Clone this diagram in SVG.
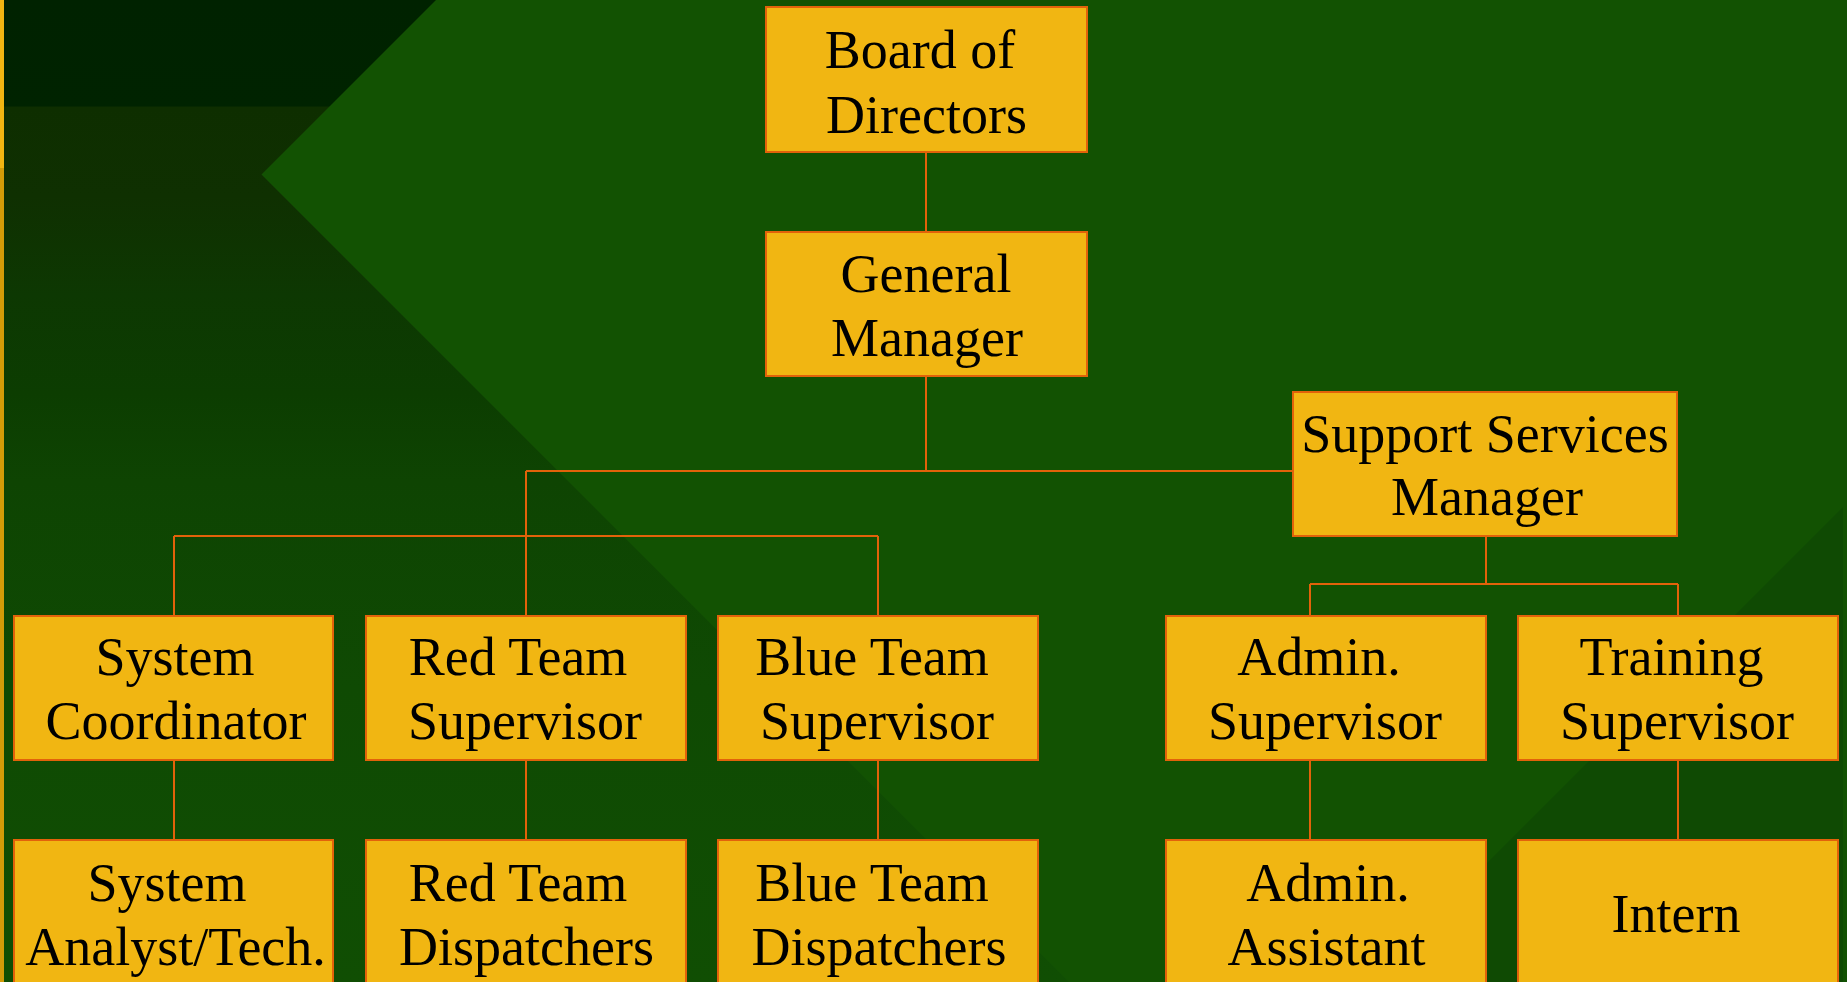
<svg xmlns="http://www.w3.org/2000/svg" width="1847" height="982" viewBox="0 0 1847 982">
  <defs>
    <linearGradient id="shadeLeft" gradientUnits="userSpaceOnUse" x1="0" y1="0" x2="0" y2="982">
      <stop offset="0" stop-color="#002200"/>
      <stop offset="0.108" stop-color="#002300"/>
      <stop offset="0.109" stop-color="#0e2e00"/>
      <stop offset="0.2" stop-color="#0f3001"/>
      <stop offset="0.3" stop-color="#0d3802"/>
      <stop offset="0.4" stop-color="#0c3d01"/>
      <stop offset="0.49" stop-color="#0e4402"/>
      <stop offset="0.7" stop-color="#0f4a03"/>
      <stop offset="1" stop-color="#104e03"/>
    </linearGradient>
  </defs>
  <style>
    .box { fill: #f1b612; stroke: #e2620a; stroke-width: 2; }
    .lbl { font-family: "Liberation Serif", "Times New Roman", serif; font-size: 54px; fill: #000; text-anchor: middle; }
    .link { fill: none; stroke: #e2620a; stroke-width: 2; }
  </style>

  <!-- background -->
  <rect x="0" y="0" width="1847" height="982" fill="#125202"/>
  <polygon points="4,0 436,0 261.5,174.5 1069,982 4,982" fill="url(#shadeLeft)"/>
  <polygon points="1843,507 1843,982 1368,982" fill="#0f4a03"/>
  <rect x="0" y="0" width="4" height="168" fill="#f1b612"/>
  <rect x="0" y="168" width="4" height="814" fill="#d29c08"/>

  <!-- connectors -->
  <g id="connectors" class="link">
    <path d="M926 152 V232"/>
    <path d="M926 376 V471"/>
    <path d="M526 471 H1293"/>
    <path d="M526 471 V616"/>
    <path d="M174 536 H878"/>
    <path d="M174 536 V616"/>
    <path d="M878 536 V616"/>
    <path d="M1486 536 V584"/>
    <path d="M1310 584 H1678"/>
    <path d="M1310 584 V616"/>
    <path d="M1678 584 V616"/>
    <path d="M174 760 V840"/>
    <path d="M526 760 V840"/>
    <path d="M878 760 V840"/>
    <path d="M1310 760 V840"/>
    <path d="M1678 760 V840"/>
  </g>

  <!-- nodes -->
  <g id="board">
    <rect class="box" x="766" y="7" width="321" height="145"/>
    <text class="lbl"><tspan x="920" y="68">Board of</tspan><tspan x="926.5" y="133">Directors</tspan></text>
  </g>
  <g id="general-manager">
    <rect class="box" x="766" y="232" width="321" height="144"/>
    <text class="lbl"><tspan x="926" y="292">General</tspan><tspan x="927" y="356">Manager</tspan></text>
  </g>
  <g id="support-services-manager">
    <rect class="box" x="1293" y="392" width="384" height="144"/>
    <text class="lbl"><tspan x="1485" y="452">Support Services</tspan><tspan x="1487" y="515">Manager</tspan></text>
  </g>

  <g id="system-coordinator">
    <rect class="box" x="14" y="616" width="319" height="144"/>
    <text class="lbl"><tspan x="175" y="675">System</tspan><tspan x="176" y="739">Coordinator</tspan></text>
  </g>
  <g id="red-team-supervisor">
    <rect class="box" x="366" y="616" width="320" height="144"/>
    <text class="lbl"><tspan x="518" y="675">Red Team</tspan><tspan x="525" y="739">Supervisor</tspan></text>
  </g>
  <g id="blue-team-supervisor">
    <rect class="box" x="718" y="616" width="320" height="144"/>
    <text class="lbl"><tspan x="872" y="675">Blue Team</tspan><tspan x="877" y="739">Supervisor</tspan></text>
  </g>
  <g id="admin-supervisor">
    <rect class="box" x="1166" y="616" width="320" height="144"/>
    <text class="lbl"><tspan x="1319" y="675">Admin.</tspan><tspan x="1325" y="739">Supervisor</tspan></text>
  </g>
  <g id="training-supervisor">
    <rect class="box" x="1518" y="616" width="320" height="144"/>
    <text class="lbl"><tspan x="1671.5" y="675">Training</tspan><tspan x="1677" y="739">Supervisor</tspan></text>
  </g>

  <g id="system-analyst">
    <rect class="box" x="14" y="840" width="319" height="146"/>
    <text class="lbl"><tspan x="167" y="901">System</tspan><tspan x="175.5" y="965">Analyst/Tech.</tspan></text>
  </g>
  <g id="red-team-dispatchers">
    <rect class="box" x="366" y="840" width="320" height="146"/>
    <text class="lbl"><tspan x="518" y="901">Red Team</tspan><tspan x="526.5" y="965">Dispatchers</tspan></text>
  </g>
  <g id="blue-team-dispatchers">
    <rect class="box" x="718" y="840" width="320" height="146"/>
    <text class="lbl"><tspan x="872" y="901">Blue Team</tspan><tspan x="879" y="965">Dispatchers</tspan></text>
  </g>
  <g id="admin-assistant">
    <rect class="box" x="1166" y="840" width="320" height="146"/>
    <text class="lbl"><tspan x="1328" y="901">Admin.</tspan><tspan x="1326.5" y="965">Assistant</tspan></text>
  </g>
  <g id="intern">
    <rect class="box" x="1518" y="840" width="320" height="146"/>
    <text class="lbl"><tspan x="1676" y="932">Intern</tspan></text>
  </g>
</svg>
